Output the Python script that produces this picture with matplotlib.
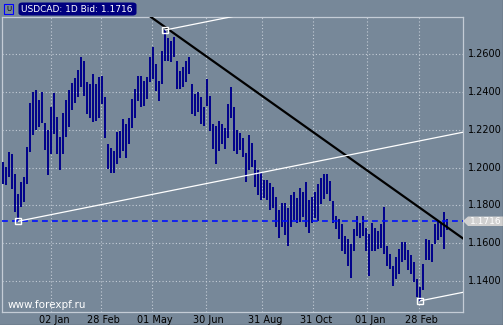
import matplotlib.pyplot as plt
import matplotlib.patches as mpatches
import numpy as np

# USDCAD daily bars, one entry per ~3 screen px
highs = [1.2030, 1.2003, 1.2083, 1.2074, 1.1968, 1.1862, 1.1924, 1.1950, 1.2110, 1.2340,
         1.2402, 1.2411, 1.2357, 1.2402, 1.2234, 1.2198, 1.2322, 1.2393, 1.2269, 1.2163,
         1.2287, 1.2357, 1.2411, 1.2446, 1.2473, 1.2517, 1.2588, 1.2566, 1.2451, 1.2442,
         1.2496, 1.2442, 1.2478, 1.2487, 1.2372, 1.2124, 1.2106, 1.2088, 1.2186, 1.2195,
         1.2257, 1.2230, 1.2265, 1.2363, 1.2416, 1.2487, 1.2487, 1.2460, 1.2478, 1.2584,
         1.2637, 1.2549, 1.2460, 1.2619, 1.2729, 1.2685, 1.2668, 1.2690, 1.2566, 1.2513,
         1.2531, 1.2566, 1.2584, 1.2442, 1.2389, 1.2398, 1.2372, 1.2319, 1.2469, 1.2381,
         1.2230, 1.2221, 1.2248, 1.2230, 1.2212, 1.2336, 1.2425, 1.2319, 1.2200, 1.2182,
         1.2156, 1.2076, 1.2173, 1.2129, 1.2041, 1.1988, 1.1970, 1.1935, 1.1935, 1.1917,
         1.1899, 1.1846, 1.1775, 1.1811, 1.1811, 1.1784, 1.1855, 1.1873, 1.1837, 1.1890,
         1.1873, 1.1926, 1.1828, 1.1846, 1.1870, 1.1912, 1.1947, 1.1965, 1.1968, 1.1929,
         1.1823, 1.1743, 1.1726, 1.1699, 1.1637, 1.1620, 1.1593, 1.1673, 1.1743, 1.1708,
         1.1743, 1.1681, 1.1646, 1.1708, 1.1681, 1.1664, 1.1699, 1.1791, 1.1584, 1.1540,
         1.1480, 1.1526, 1.1570, 1.1605, 1.1605, 1.1561, 1.1535, 1.1499, 1.1411, 1.1366,
         1.1490, 1.1623, 1.1614, 1.1596, 1.1703, 1.1720, 1.1711, 1.1765, 1.1729]
lows = [1.1915, 1.1906, 1.1950, 1.1888, 1.1765, 1.1716, 1.1791, 1.1818, 1.1915, 1.2083,
        1.2172, 1.2198, 1.2216, 1.2234, 1.2092, 1.1959, 1.2074, 1.2180, 1.2074, 1.1986,
        1.2074, 1.2163, 1.2216, 1.2304, 1.2340, 1.2375, 1.2428, 1.2381, 1.2283, 1.2265,
        1.2239, 1.2248, 1.2265, 1.2336, 1.2159, 1.1991, 1.1973, 1.1973, 1.2018, 1.2053,
        1.2088, 1.2053, 1.2124, 1.2212, 1.2265, 1.2354, 1.2319, 1.2327, 1.2363, 1.2451,
        1.2469, 1.2407, 1.2354, 1.2442, 1.2566, 1.2566, 1.2557, 1.2584, 1.2416, 1.2416,
        1.2425, 1.2451, 1.2496, 1.2283, 1.2274, 1.2292, 1.2230, 1.2221, 1.2327, 1.2195,
        1.2097, 1.2018, 1.2088, 1.2124, 1.2097, 1.2159, 1.2265, 1.2088, 1.2070, 1.2094,
        1.2058, 1.1926, 1.1988, 1.2005, 1.1899, 1.1855, 1.1828, 1.1837, 1.1828, 1.1775,
        1.1784, 1.1687, 1.1625, 1.1687, 1.1642, 1.1584, 1.1687, 1.1722, 1.1704, 1.1713,
        1.1740, 1.1687, 1.1651, 1.1704, 1.1735, 1.1717, 1.1805, 1.1832, 1.1858, 1.1823,
        1.1708, 1.1673, 1.1620, 1.1558, 1.1540, 1.1478, 1.1416, 1.1558, 1.1637, 1.1628,
        1.1637, 1.1558, 1.1425, 1.1558, 1.1558, 1.1566, 1.1575, 1.1540, 1.1478, 1.1460,
        1.1370, 1.1411, 1.1437, 1.1499, 1.1508, 1.1455, 1.1437, 1.1393, 1.1313, 1.1294,
        1.1349, 1.1508, 1.1508, 1.1499, 1.1596, 1.1614, 1.1632, 1.1570, 1.1667]

bid = 1.1716
price_ticks = [1.14, 1.16, 1.18, 1.20, 1.22, 1.24, 1.26]
date_labels = ['02 Jan', '28 Feb', '01 May', '30 Jun', '31 Aug', '31 Oct', '01 Jan', '28 Feb']
date_pos = [15.9, 32.4, 49.6, 67.4, 86.2, 103.3, 121.2, 138.4]

# channel anchors (bar index, price) and trendline points
channel_pts = [(5, 1.1716), (54, 1.2729), (139, 1.1294)]
channel_slope = 0.000318
trend_pts = [(51.5, 1.2771), (153.2, 1.1624)]

BG = '#778899'
GRID = '#c4ccd6'
W, H = 503, 325


def fpx(x, y):
    # figure pixel (from top-left) -> figure fraction
    return x / W, 1 - y / H


fig = plt.figure(figsize=(W / 100, H / 100), dpi=100, facecolor=BG)
ax = fig.add_axes([2 / W, 13 / H, 461 / W, 295 / H])
ax.set_facecolor(BG)

cols = np.arange(len(highs))
ax.vlines(cols, lows, highs, colors='#00008b', linewidth=1.4, zorder=3)

ax.set_xlim(-0.5, 153.17)
ax.set_ylim(1.12347, 1.27976)
ax.set_yticks(price_ticks)
ax.set_xticks(date_pos)
ax.grid(True, color=GRID, linestyle=(0, (1, 2)), linewidth=0.8)
ax.tick_params(length=0, labelleft=False, labelbottom=False)
for s in ax.spines.values():
    s.set_color(GRID)
    s.set_linewidth(0.9)

# current bid line
ax.axhline(bid, color='#0010ff', linewidth=1.2, linestyle=(0, (3.5, 2.5)), zorder=4)

# trendline
ax.axline(trend_pts[0], trend_pts[1], color='black', linewidth=1.6, zorder=5)

# parallel channel rays
for cx, cy in channel_pts:
    xs = np.array([cx, 153.17])
    ax.plot(xs, cy + channel_slope * (xs - cx), color='white', linewidth=0.9, zorder=5)
    ax.plot(cx, cy, marker='s', markersize=5, markerfacecolor='none',
            markeredgecolor='white', markeredgewidth=1.0, zorder=6)

# y labels
for p in price_ticks:
    ax.annotate('%.4f' % p, xy=(1, p), xycoords=('axes fraction', 'data'),
                xytext=(5, 0), textcoords='offset pixels', ha='left', va='center',
                fontsize=7, color='black')

# x labels
for pos, lab in zip(date_pos, date_labels):
    ax.annotate(lab, xy=(pos, 0), xycoords=('data', 'axes fraction'),
                xytext=(3, -8), textcoords='offset pixels', ha='center', va='center',
                fontsize=7, color='black')

# price tag
tag = mpatches.Polygon([fpx(463, 221), fpx(468, 216.5), fpx(503, 216.5),
                        fpx(503, 226), fpx(468, 226)], closed=True,
                       transform=fig.transFigure, facecolor='#d0d0d0', edgecolor='none')
fig.patches.append(tag)
fig.text(*fpx(485.5, 221.5), '%.4f' % bid, color='white', fontsize=6.5,
         ha='center', va='center')

# title box
tx, ty = fpx(18.5, 15.5)
box = mpatches.FancyBboxPatch((tx, ty), 118 / W, 13 / H,
                              boxstyle='round,pad=0,rounding_size=0.008',
                              transform=fig.transFigure, facecolor='#000080',
                              edgecolor='none')
fig.patches.append(box)
fig.text(*fpx(77, 9), 'USDCAD: 1D Bid: 1.1716', color='white', fontsize=6.5,
         ha='center', va='center')

# small icon
ix, iy = fpx(4, 14)
fig.patches.append(mpatches.Rectangle((ix, iy), 9 / W, 10 / H, transform=fig.transFigure,
                                      facecolor='none', edgecolor='#0000ff', linewidth=0.8))
fig.text(*fpx(8.5, 9), 'U', color='black', fontsize=5, ha='center', va='center')

# watermark
fig.text(*fpx(8, 305.5), 'www.forexpf.ru', color='white', fontsize=7.5,
         ha='left', va='center')

# outer border
fig.add_artist(plt.Line2D([502.5 / W, 502.5 / W], [0, 1], color='black',
                          linewidth=0.8, transform=fig.transFigure))
fig.add_artist(plt.Line2D([0, 1], [0.5 / H, 0.5 / H], color='black',
                          linewidth=0.8, transform=fig.transFigure))

fig.savefig('out.png', dpi=100, facecolor=BG)
